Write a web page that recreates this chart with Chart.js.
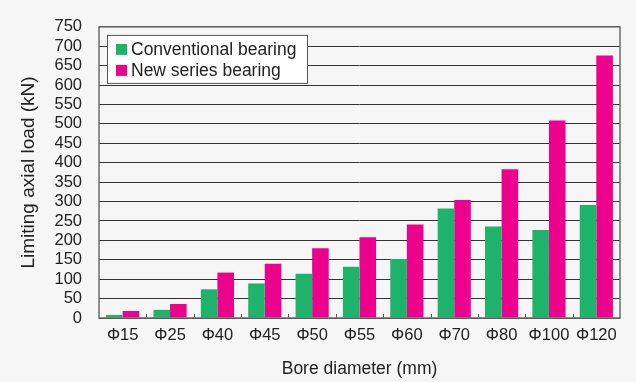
<!DOCTYPE html>
<html lang="en">
<head>
<meta charset="UTF-8">
<title>Limiting axial load</title>
<script src="https://cdn.jsdelivr.net/npm/chart.js@4.4.1/dist/chart.umd.min.js"></script>
<style>
  html, body { margin: 0; padding: 0; background: #f6f6f6; }
  #wrap { width: 636px; height: 382px; }
</style>
</head>
<body>
<div id="wrap"><canvas id="myChart" width="636" height="382"></canvas></div>
<script>
  const sizes = ['Φ15', 'Φ25', 'Φ40', 'Φ45', 'Φ50', 'Φ55', 'Φ60', 'Φ70', 'Φ80', 'Φ100', 'Φ120'];
  const conventional = [8, 21, 74, 89, 114, 132, 152, 282, 236, 227, 291];
  const newSeries = [18, 36, 117, 140, 180, 208, 241, 304, 383, 509, 676];

  const green = '#1eb36b';
  const pink = '#ec008c';
  const font = 'Liberation Sans, Arial, Helvetica, sans-serif';

  // legend box inside the plot + small inward ticks + frame
  const extras = {
    id: 'extras',
    afterDatasetsDraw(chart) {
      const ctx = chart.ctx;
      const a = chart.chartArea;
      const x = chart.scales.x;
      ctx.save();
      // ticks between categories
      ctx.strokeStyle = '#555';
      ctx.lineWidth = 1;
      for (let i = 1; i < sizes.length; i++) {
        const px = Math.round((x.getPixelForValue(i - 1) + x.getPixelForValue(i)) / 2) + 0.5;
        ctx.beginPath();
        ctx.moveTo(px, a.bottom);
        ctx.lineTo(px, a.bottom - 4);
        ctx.stroke();
      }
      // frame
      ctx.strokeStyle = '#6b6b6b';
      ctx.lineWidth = 1.5;
      ctx.strokeRect(a.left, a.top, a.right - a.left, a.bottom - a.top);

      // legend
      const lx = a.left + 8, ly = a.top + 8, lw = 200, lh = 48;
      ctx.fillStyle = '#ffffff';
      ctx.fillRect(lx, ly, lw, lh);
      ctx.strokeStyle = '#555';
      ctx.lineWidth = 1;
      ctx.strokeRect(lx + 0.5, ly + 0.5, lw, lh);
      ctx.font = '17.5px ' + font;
      ctx.textBaseline = 'middle';
      chart.data.datasets.forEach((ds, i) => {
        const cy = ly + 14 + i * 21;
        ctx.fillStyle = ds.backgroundColor;
        ctx.fillRect(lx + 9, cy - 5, 11, 11);
        ctx.fillStyle = '#222';
        ctx.fillText(ds.label, lx + 24, cy + 1);
      });
      ctx.restore();
    }
  };

  new Chart(document.getElementById('myChart'), {
    type: 'bar',
    data: {
      labels: sizes,
      datasets: [
        { label: 'Conventional bearing', data: conventional, backgroundColor: green },
        { label: 'New series bearing', data: newSeries, backgroundColor: pink }
      ]
    },
    options: {
      responsive: false,
      animation: false,
      layout: { padding: { top: 19, right: 16, left: 0, bottom: 0 } },
      datasets: { bar: { categoryPercentage: 0.7, barPercentage: 1.0 } },
      plugins: { legend: { display: false }, tooltip: { enabled: false } },
      scales: {
        x: {
          grid: { display: false, drawTicks: false },
          border: { display: false },
          ticks: { color: '#222', font: { family: font, size: 16.5 }, padding: 8, maxRotation: 0, autoSkip: false },
          title: { display: true, text: 'Bore diameter (mm)', color: '#222', font: { family: font, size: 17.5 }, padding: { top: 6, bottom: 2 } },
          afterFit(s) { s.height = 64; }
        },
        y: {
          min: 0, max: 750,
          ticks: { stepSize: 50, autoSkip: false, color: '#222', font: { family: font, size: 16.5 }, padding: 17 },
          grid: { color: '#333', lineWidth: 1, drawTicks: false },
          border: { display: false },
          title: { display: true, text: 'Limiting axial load (kN)', color: '#222', font: { family: font, size: 19 }, padding: { top: 17, bottom: 0 } },
          afterFit(s) { s.width = 99; }
        }
      }
    },
    plugins: [extras]
  });
</script>
</body>
</html>
